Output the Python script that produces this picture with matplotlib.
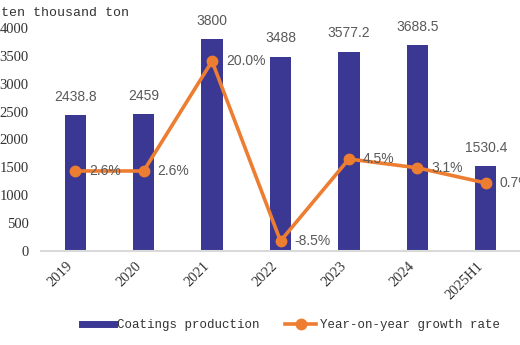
import matplotlib
matplotlib.use("Agg")
import matplotlib.pyplot as plt
from matplotlib.lines import Line2D

categories = ["2019", "2020", "2021", "2022", "2023", "2024", "2025H1"]
production = [2438.8, 2459, 3800, 3488, 3577.2, 3688.5, 1530.4]
production_labels = ["2438.8", "2459", "3800", "3488", "3577.2", "3688.5", "1530.4"]
growth = [2.6, 2.6, 20.0, -8.5, 4.5, 3.1, 0.7]
growth_labels = ["2.6%", "2.6%", "20.0%", "-8.5%", "4.5%", "3.1%", "0.7%"]
yticks = [0, 500, 1000, 1500, 2000, 2500, 3000, 3500, 4000]

bar_color = "#3A3893"
line_color = "#ED7D31"
label_color = "#595959"
serif = "Liberation Serif"
mono = "Liberation Mono"
sans = "Liberation Sans"

fig = plt.figure(figsize=(5.2, 3.45), dpi=100)
ax = fig.add_axes([41/520, 1-251/345, 1-41/520, 223/345])

x = list(range(len(categories)))
ax.bar(x, production, width=0.31, color=bar_color, zorder=2)
ax.set_xlim(-0.5, len(categories)-0.5)
ax.set_ylim(0, 4000)
ax.set_yticks(yticks)
ax.set_yticklabels([str(v) for v in yticks], fontfamily=serif, fontsize=10.5, color="#333333")
ax.set_xticks(x)
ax.set_xticklabels(categories, rotation=45, ha="right", fontfamily=serif, fontsize=10.5, color="#333333")
ax.tick_params(axis="both", length=0)
ax.tick_params(axis="y", pad=9)
ax.tick_params(axis="x", pad=6)
for s in ["top", "right", "left"]:
    ax.spines[s].set_visible(False)
ax.spines["bottom"].set_color("#D9D9D9")
ax.spines["bottom"].set_linewidth(1.5)

for xi, v, lab in zip(x, production, production_labels):
    ax.annotate(lab, (xi, v), xytext=(0, 8), textcoords="offset points",
                ha="center", va="bottom", fontfamily=sans, fontsize=10, color=label_color)

ax2 = ax.twinx()
ax2.set_ylim(-10.08, 25.26)
ax2.plot(x, growth, color=line_color, lw=2.6, marker="o", markersize=7.5, zorder=3)
ax2.axis("off")
for xi, g, lab in zip(x, growth, growth_labels):
    ax2.annotate(lab, (xi, g), xytext=(10, 0), textcoords="offset points",
                 ha="left", va="center", fontfamily=sans, fontsize=10, color=label_color,
                 annotation_clip=False)

fig.text(0.002, 1-13/345, "ten thousand ton", ha="left", va="center",
         fontfamily=mono, fontsize=9.5, color="#333333")

handles = [Line2D([], [], color=bar_color, lw=5),
           Line2D([], [], color=line_color, lw=2.6, marker="o", markersize=7.5)]
fig.legend(handles, ["Coatings production", "Year-on-year growth rate"],
           loc="center", bbox_to_anchor=(0.56, 1-325/345), ncol=2, frameon=False,
           prop={"family": mono, "size": 9}, handlelength=2.5, handletextpad=0.3,
           columnspacing=2.0, labelcolor="#333333")

fig.savefig("out.png", dpi=100)
